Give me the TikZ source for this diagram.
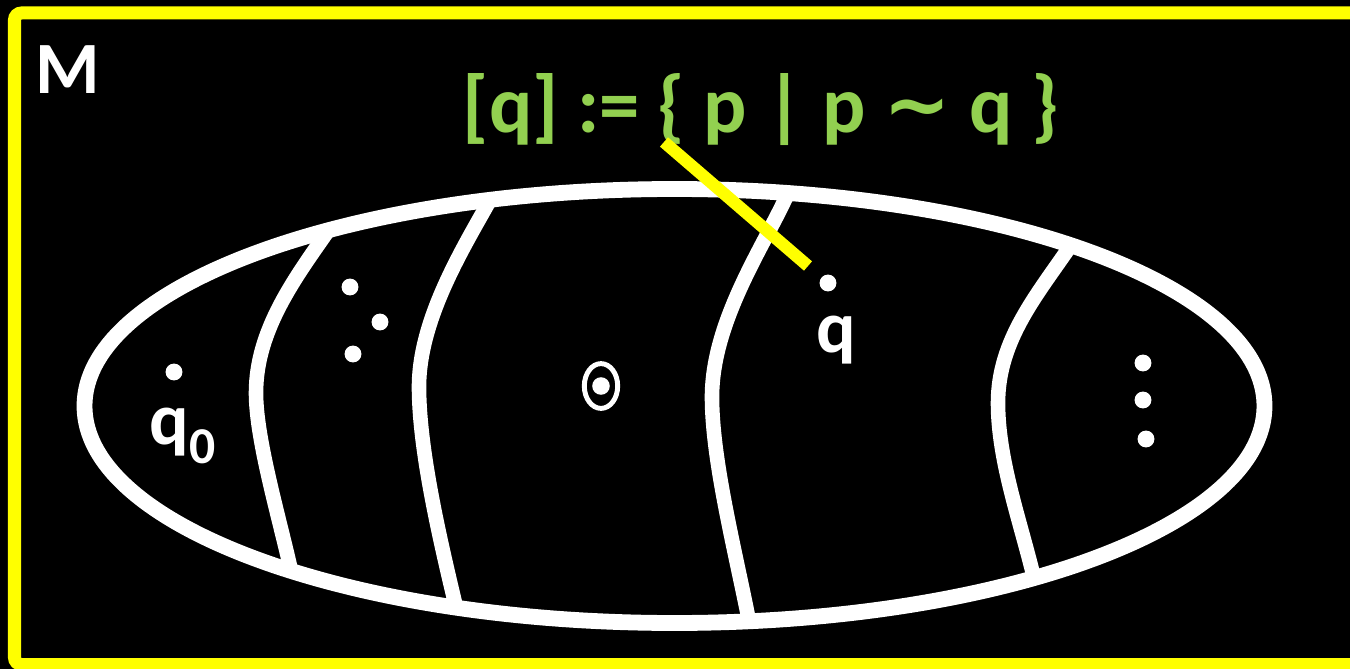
\documentclass[tikz,border=0pt]{standalone}
\usetikzlibrary{shapes.geometric}
\usepackage{fontspec}
\setmainfont{Carlito}
\newfontfamily\symfont{DejaVu Sans}
\definecolor{frameY}{RGB}{255,255,0}
\definecolor{lblG}{RGB}{146,208,80}
\begin{document}
\begin{tikzpicture}[x=0.02cm,y=-0.02cm,
  wline/.style={draw=white,line width=8.3pt},
  dot/.style={circle,fill=white,inner sep=0pt,minimum size=9.6pt},
  lbl/.style={text=white,font=\bfseries\fontsize{42}{48}\selectfont,inner sep=0pt},
  glbl/.style={text=lblG,font=\bfseries\fontsize{46}{52}\selectfont,inner sep=0pt}]
\useasboundingbox (0,0) rectangle (1350,669);
\fill[black] (0,0) rectangle (1350,669);
\begin{scope}
\clip (0,0) rectangle (1350,669);
\draw[frameY,line width=7.4pt,rounded corners=4pt] (14.5,13) rectangle (1400,664.5);
\end{scope}
\node[lbl,anchor=west] (M) at (35,70) {M};
% regions
\draw[wline] (330,228) .. controls (295,278) and (256,330) .. (256,393)
  .. controls (256,440) and (280,520) .. (292,575);
\draw[wline] (490,200) .. controls (462,250) and (419,320) .. (419,387)
  .. controls (419,450) and (440,540) .. (456,607);
\draw[wline] (788,193) .. controls (766,243) and (712,320) .. (712,397)
  .. controls (712,460) and (735,550) .. (749,621);
\draw[wline] (1071,245) .. controls (1037,295) and (998,340) .. (998,403)
  .. controls (998,460) and (1020,520) .. (1034,578);
\draw[white,line width=9pt] (674.5,406) ellipse [x radius=590, y radius=217];
% points
\node[dot] (q0dot) at (174,372) {};
\node[lbl] (q0) at (183,436) {q\textsubscript{0}};
\node[dot] (d1) at (350,287) {};
\node[dot] (d2) at (380,322) {};
\node[dot] (d3) at (353,354) {};
\node[draw=white,line width=2.8pt,ellipse,minimum width=19pt,minimum height=25.5pt,inner sep=0pt] (ring) at (601,386) {};
\node[dot,minimum size=10pt] (center) at (601,386) {};
\node[dot] (qdot) at (828,283) {};
\node[lbl] (q) at (836,340) {q};
\node[dot] (e1) at (1143,363) {};
\node[dot] (e2) at (1143,400) {};
\node[dot] (e3) at (1146,439) {};
% label
\node[glbl] (def) at (761,110) {[q] := \{ p | p {\symfont\fontsize{46}{52}\selectfont ∼} q \}};
\coordinate (la) at (664,142);
\coordinate (lb) at (808,266);
\draw[frameY,line width=7pt] (la) -- (lb);
\end{tikzpicture}
\end{document}
